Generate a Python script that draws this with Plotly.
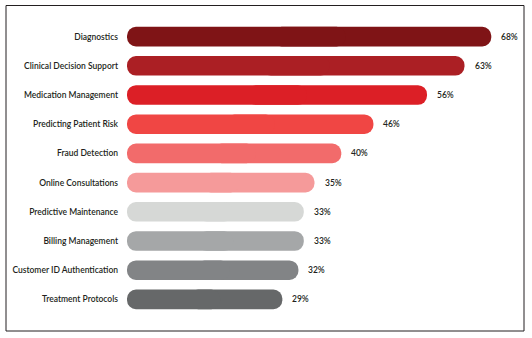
import plotly.graph_objects as go

categories = ["Diagnostics", "Clinical Decision Support", "Medication Management",
              "Predicting Patient Risk", "Fraud Detection", "Online Consultations",
              "Predictive Maintenance", "Billing Management",
              "Customer ID Authentication", "Treatment Protocols"]
values = [68, 63, 56, 46, 40, 35, 33, 33, 32, 29]
colors = ["#7f1416", "#ab1f24", "#dc1f26", "#f04644", "#f26b6b", "#f59a9a",
          "#d6d8d6", "#a5a7a8", "#828486", "#666869"]
labels = [f"{v}%" for v in values]

fig = go.Figure()
# right half, rounded at the value end
fig.add_trace(go.Bar(
    y=categories, x=[v * 0.6 for v in values], base=[v * 0.4 for v in values],
    orientation="h", marker=dict(color=colors, line=dict(width=0), cornerradius="50%"),
    hoverinfo="skip", showlegend=False))
# left half, rounded at the zero end
fig.add_trace(go.Bar(
    y=categories, x=[-v * 0.6 for v in values], base=[v * 0.6 for v in values],
    orientation="h", marker=dict(color=colors, line=dict(width=0), cornerradius="50%"),
    hoverinfo="skip", showlegend=False))

for c, v, t in zip(categories, values, labels):
    fig.add_annotation(x=v, y=c, text=t, showarrow=False, xanchor="left",
                       xshift=8, font=dict(family="Lato", size=8.5, color="#231f20", weight=600))

fig.add_shape(type="rect", xref="paper", yref="paper",
              x0=(6 - 127) / 375, x1=(524 - 127) / 375,
              y0=(314 - 331) / 292, y1=(314 - 5.5) / 292,
              line=dict(color="#231f20", width=1))

fig.update_layout(
    width=532, height=338, margin=dict(l=127, r=30, t=22, b=24),
    paper_bgcolor="white", plot_bgcolor="white",
    barmode="overlay", bargap=0.33,
    xaxis=dict(range=[0, 70], visible=False, fixedrange=True),
    yaxis=dict(autorange="reversed", showgrid=False, zeroline=False, showline=False,
               ticks="", ticklabelstandoff=8,
               tickfont=dict(family="Lato", size=8.5, color="#231f20", weight=600)),
    font=dict(family="Lato"),
)

fig.write_html("out.html")
